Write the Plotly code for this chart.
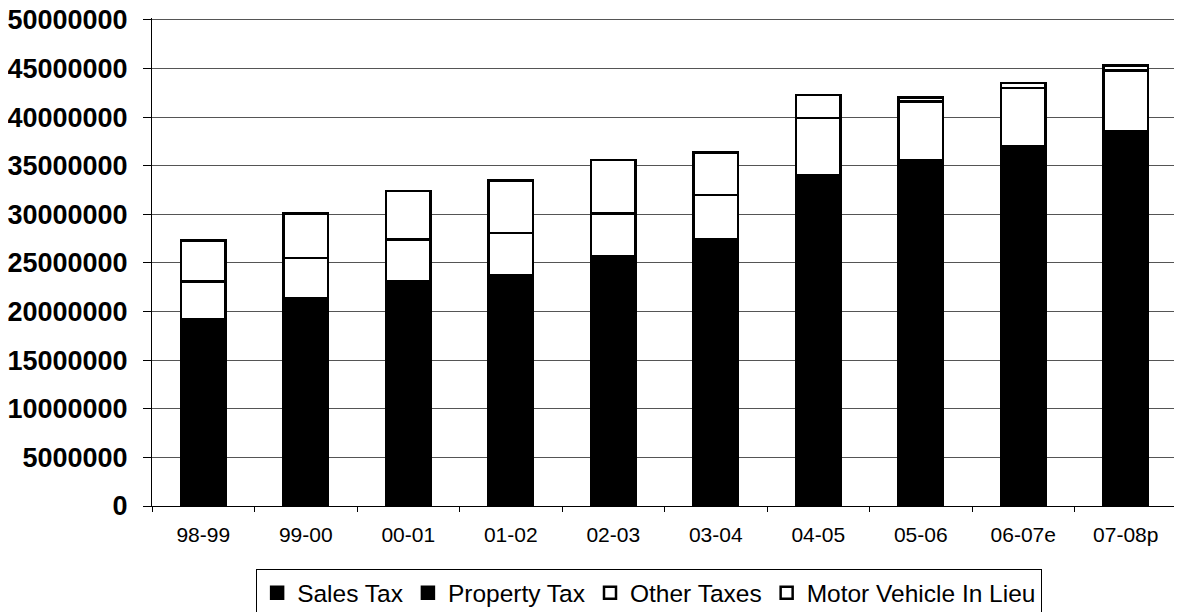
import plotly.graph_objects as go

years = ["98-99", "99-00", "00-01", "01-02", "02-03", "03-04", "04-05", "05-06", "06-07e", "07-08p"]
sales_tax = [8600000, 9500000, 10300000, 10400000, 11200000, 11900000, 12800000, 13400000, 13900000, 14500000]
property_tax = [10600000, 11900000, 12800000, 13300000, 14450000, 15500000, 21250000, 22200000, 23100000, 24100000]
other_taxes = [3900000, 4100000, 4300000, 4400000, 4450000, 4600000, 5850000, 6000000, 6000000, 6200000]
motor_vehicle = [4200000, 4600000, 5000000, 5400000, 5500000, 4350000, 2400000, 400000, 500000, 500000]

series = [
    ("Sales Tax", sales_tax, "black"),
    ("Property Tax", property_tax, "black"),
    ("Other Taxes", other_taxes, "white"),
    ("Motor Vehicle In Lieu", motor_vehicle, "white"),
]

fig = go.Figure()
for name, vals, color in series:
    fig.add_trace(go.Bar(
        x=years, y=vals, name=name,
        marker=dict(color=color, line=dict(color="black", width=2.5)),
    ))

fig.update_layout(
    width=1182, height=612,
    margin=dict(l=144, r=13, t=10, b=114, autoexpand=False),
    barmode="stack", bargap=0.57,
    plot_bgcolor="white", paper_bgcolor="white",
    font=dict(family="Liberation Sans, Arial, sans-serif", color="black"),
    showlegend=True,
    legend=dict(
        orientation="h", x=0.485, xanchor="center", y=-0.13, yanchor="top",
        bordercolor="black", borderwidth=1, font=dict(size=24.5),
        itemwidth=30, traceorder="normal",
    ),
)
fig.update_xaxes(
    type="category", showline=True, linecolor="black", linewidth=1,
    ticks="outside", tickson="boundaries", ticklen=5, tickcolor="black",
    tickfont=dict(size=21), ticklabelstandoff=10, showgrid=False,
    automargin=False,
)
fig.update_yaxes(
    range=[0, 50200000], dtick=5000000, tickformat="d",
    showline=True, linecolor="black", linewidth=1,
    ticks="outside", ticklen=8, tickcolor="black",
    tickfont=dict(size=27, weight="bold"), ticklabelstandoff=10,
    ticklabeloverflow="allow",
    showgrid=True, gridcolor="#555555", gridwidth=1, zeroline=False,
    automargin=False,
)

fig.write_html("out.html")
